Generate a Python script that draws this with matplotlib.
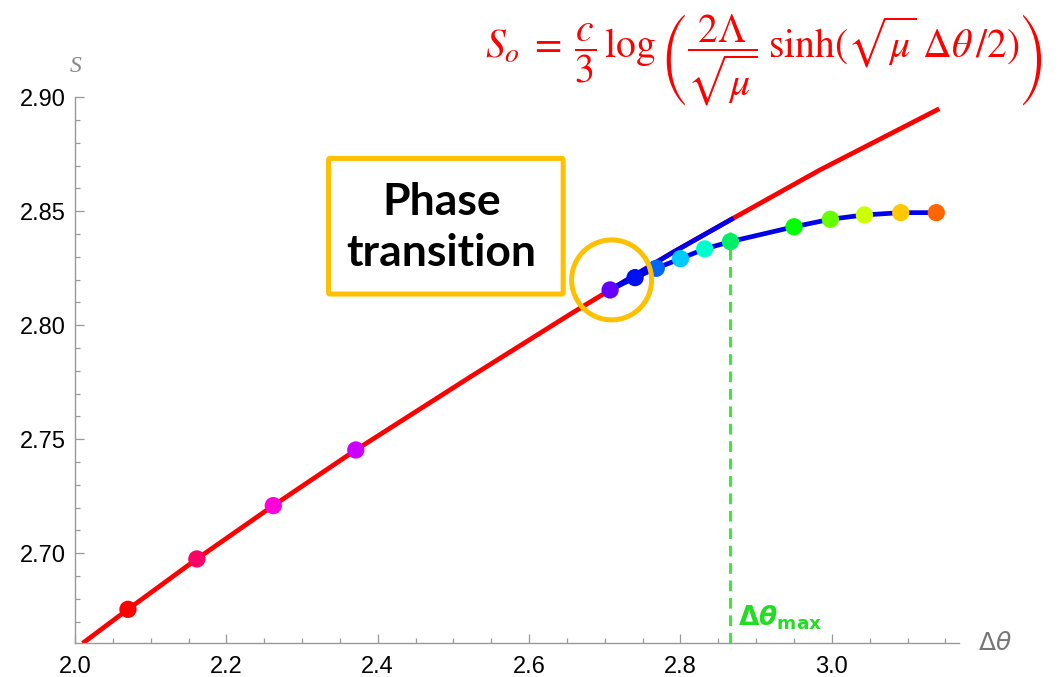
import matplotlib
matplotlib.use('Agg')
import matplotlib.pyplot as plt
import matplotlib.patches as mpatches
import numpy as np

# red curve: S_o vs delta theta
red_x = [2.010, 2.070, 2.161, 2.262, 2.371, 2.522, 2.654, 2.707, 2.789, 2.870, 2.984, 3.142]
red_y = [2.6605, 2.6754, 2.6975, 2.7209, 2.7453, 2.7773, 2.8048, 2.8155, 2.8318, 2.8470, 2.8681, 2.8950]

# blue upper branch (drawn over the red curve)
up_x = [2.707, 2.789, 2.870]
up_y = [2.8155, 2.8318, 2.8470]

# coloured points
pt_x = [2.070, 2.161, 2.262, 2.371, 2.707, 2.740, 2.768, 2.800, 2.832, 2.866,
        2.950, 2.998, 3.043, 3.091, 3.138]
pt_y = [2.6754, 2.6975, 2.7209, 2.7453, 2.8155, 2.8209, 2.8250, 2.8292, 2.8335, 2.8367,
        2.8432, 2.8465, 2.8484, 2.8494, 2.8494]
pt_c = ['#ff0000', '#ff0066', '#ff00dd', '#cc00ff', '#6600ff', '#0011ee', '#0066ff',
        '#00ccff', '#00ffcc', '#00ee66', '#00ff00', '#66ff00', '#ccff00', '#ffc800',
        '#ff6600']
n_low = 4  # points on the lower blue branch start here

dtheta_max = 2.866
xrng = [2.0, 3.168]
yrng = [2.6605, 2.90]

fig = plt.figure(figsize=(10.61, 6.77), dpi=100)
ax = fig.add_axes([75/1061., 33.7/677., 884/1061., 546/677.])

ax.plot(red_x, red_y, color='#ff0000', lw=3.4, solid_capstyle='butt', zorder=2)
ax.plot(up_x, up_y, color='#0000ee', lw=3.4, solid_capstyle='butt', zorder=3)
ax.plot(pt_x[n_low:], pt_y[n_low:], color='#0000ee', lw=3.4, zorder=3)
ax.plot([dtheta_max, dtheta_max], [yrng[0], 2.841], color='#33ee33', lw=2.2,
        dashes=(3.5, 2.2), zorder=2.5, clip_on=False)
ax.scatter(pt_x, pt_y, s=155, c=pt_c, zorder=5, linewidths=0)

ax.set_xlim(xrng)
ax.set_ylim(yrng)
ax.set_xticks(np.arange(2.0, 3.01, 0.2))
ax.set_xticks(np.arange(2.05, 3.16, 0.05), minor=True)
ax.set_yticks(np.arange(2.70, 2.901, 0.05))
ax.set_yticks(np.arange(2.67, 2.90, 0.01), minor=True)
ax.xaxis.set_major_formatter(matplotlib.ticker.FormatStrFormatter('%.1f'))
ax.yaxis.set_major_formatter(matplotlib.ticker.FormatStrFormatter('%.2f'))
for s in ['top', 'right']:
    ax.spines[s].set_visible(False)
for s in ['left', 'bottom']:
    ax.spines[s].set_color('#999999')
    ax.spines[s].set_linewidth(1.0)
ax.tick_params(which='both', direction='in', color='#999999', width=0.9)
ax.tick_params(which='major', length=6.5, labelsize=17, labelcolor='black')
ax.tick_params(which='minor', length=3.4)
ax.tick_params(axis='x', pad=9)
ax.tick_params(axis='y', pad=6.5)
for lab in ax.get_xticklabels() + ax.get_yticklabels():
    lab.set_family('Liberation Sans')

# axis labels
fig.text(76/1061., 1 - 67/677., 'S', color='#888888', fontsize=17, style='italic',
         family='Liberation Serif', ha='center', va='center')
fig.text(995/1061., 1 - 643/677., r'$\Delta\theta$', color='#777777', fontsize=18,
         math_fontfamily='dejavusans', ha='center', va='center')

# phase transition box
box = mpatches.FancyBboxPatch((2.335, 2.8137), 2.645 - 2.335, 2.8732 - 2.8137,
                              boxstyle='round,pad=0,rounding_size=0.002',
                              mutation_aspect=0.33,
                              fc='white', ec='#ffc000', lw=3.6, zorder=6)
ax.add_patch(box)
ax.text(2.484, 2.8428, 'Phase\ntransition', ha='center', va='center', fontsize=32,
        fontweight='bold', family='Lato', linespacing=1.35, zorder=7)

circ = mpatches.Ellipse((2.709, 2.8199), 80/757., 80/2280., fc='none', ec='#ffc000',
                        lw=3.6, zorder=6)
ax.add_patch(circ)

ax.text(dtheta_max + 0.01, 2.6718, r'$\mathbf{\Delta}\boldsymbol{\theta}_{\mathbf{max}}$',
        color='#22dd22', fontsize=19, math_fontfamily='dejavusans', ha='left', va='center')

# formula
fig.text(485/1061., 1 - 60/677.,
         r'$S_o\;=\;\dfrac{c}{3}\,\log\left(\dfrac{2\Lambda}{\sqrt{\mu}}\;\sinh(\sqrt{\mu}\;\Delta\theta\,/2)\right)$',
         color='#ff0000', fontsize=28.5, math_fontfamily='stix', ha='left', va='center')

plt.savefig('out.png', dpi=100)
plt.close('all')
